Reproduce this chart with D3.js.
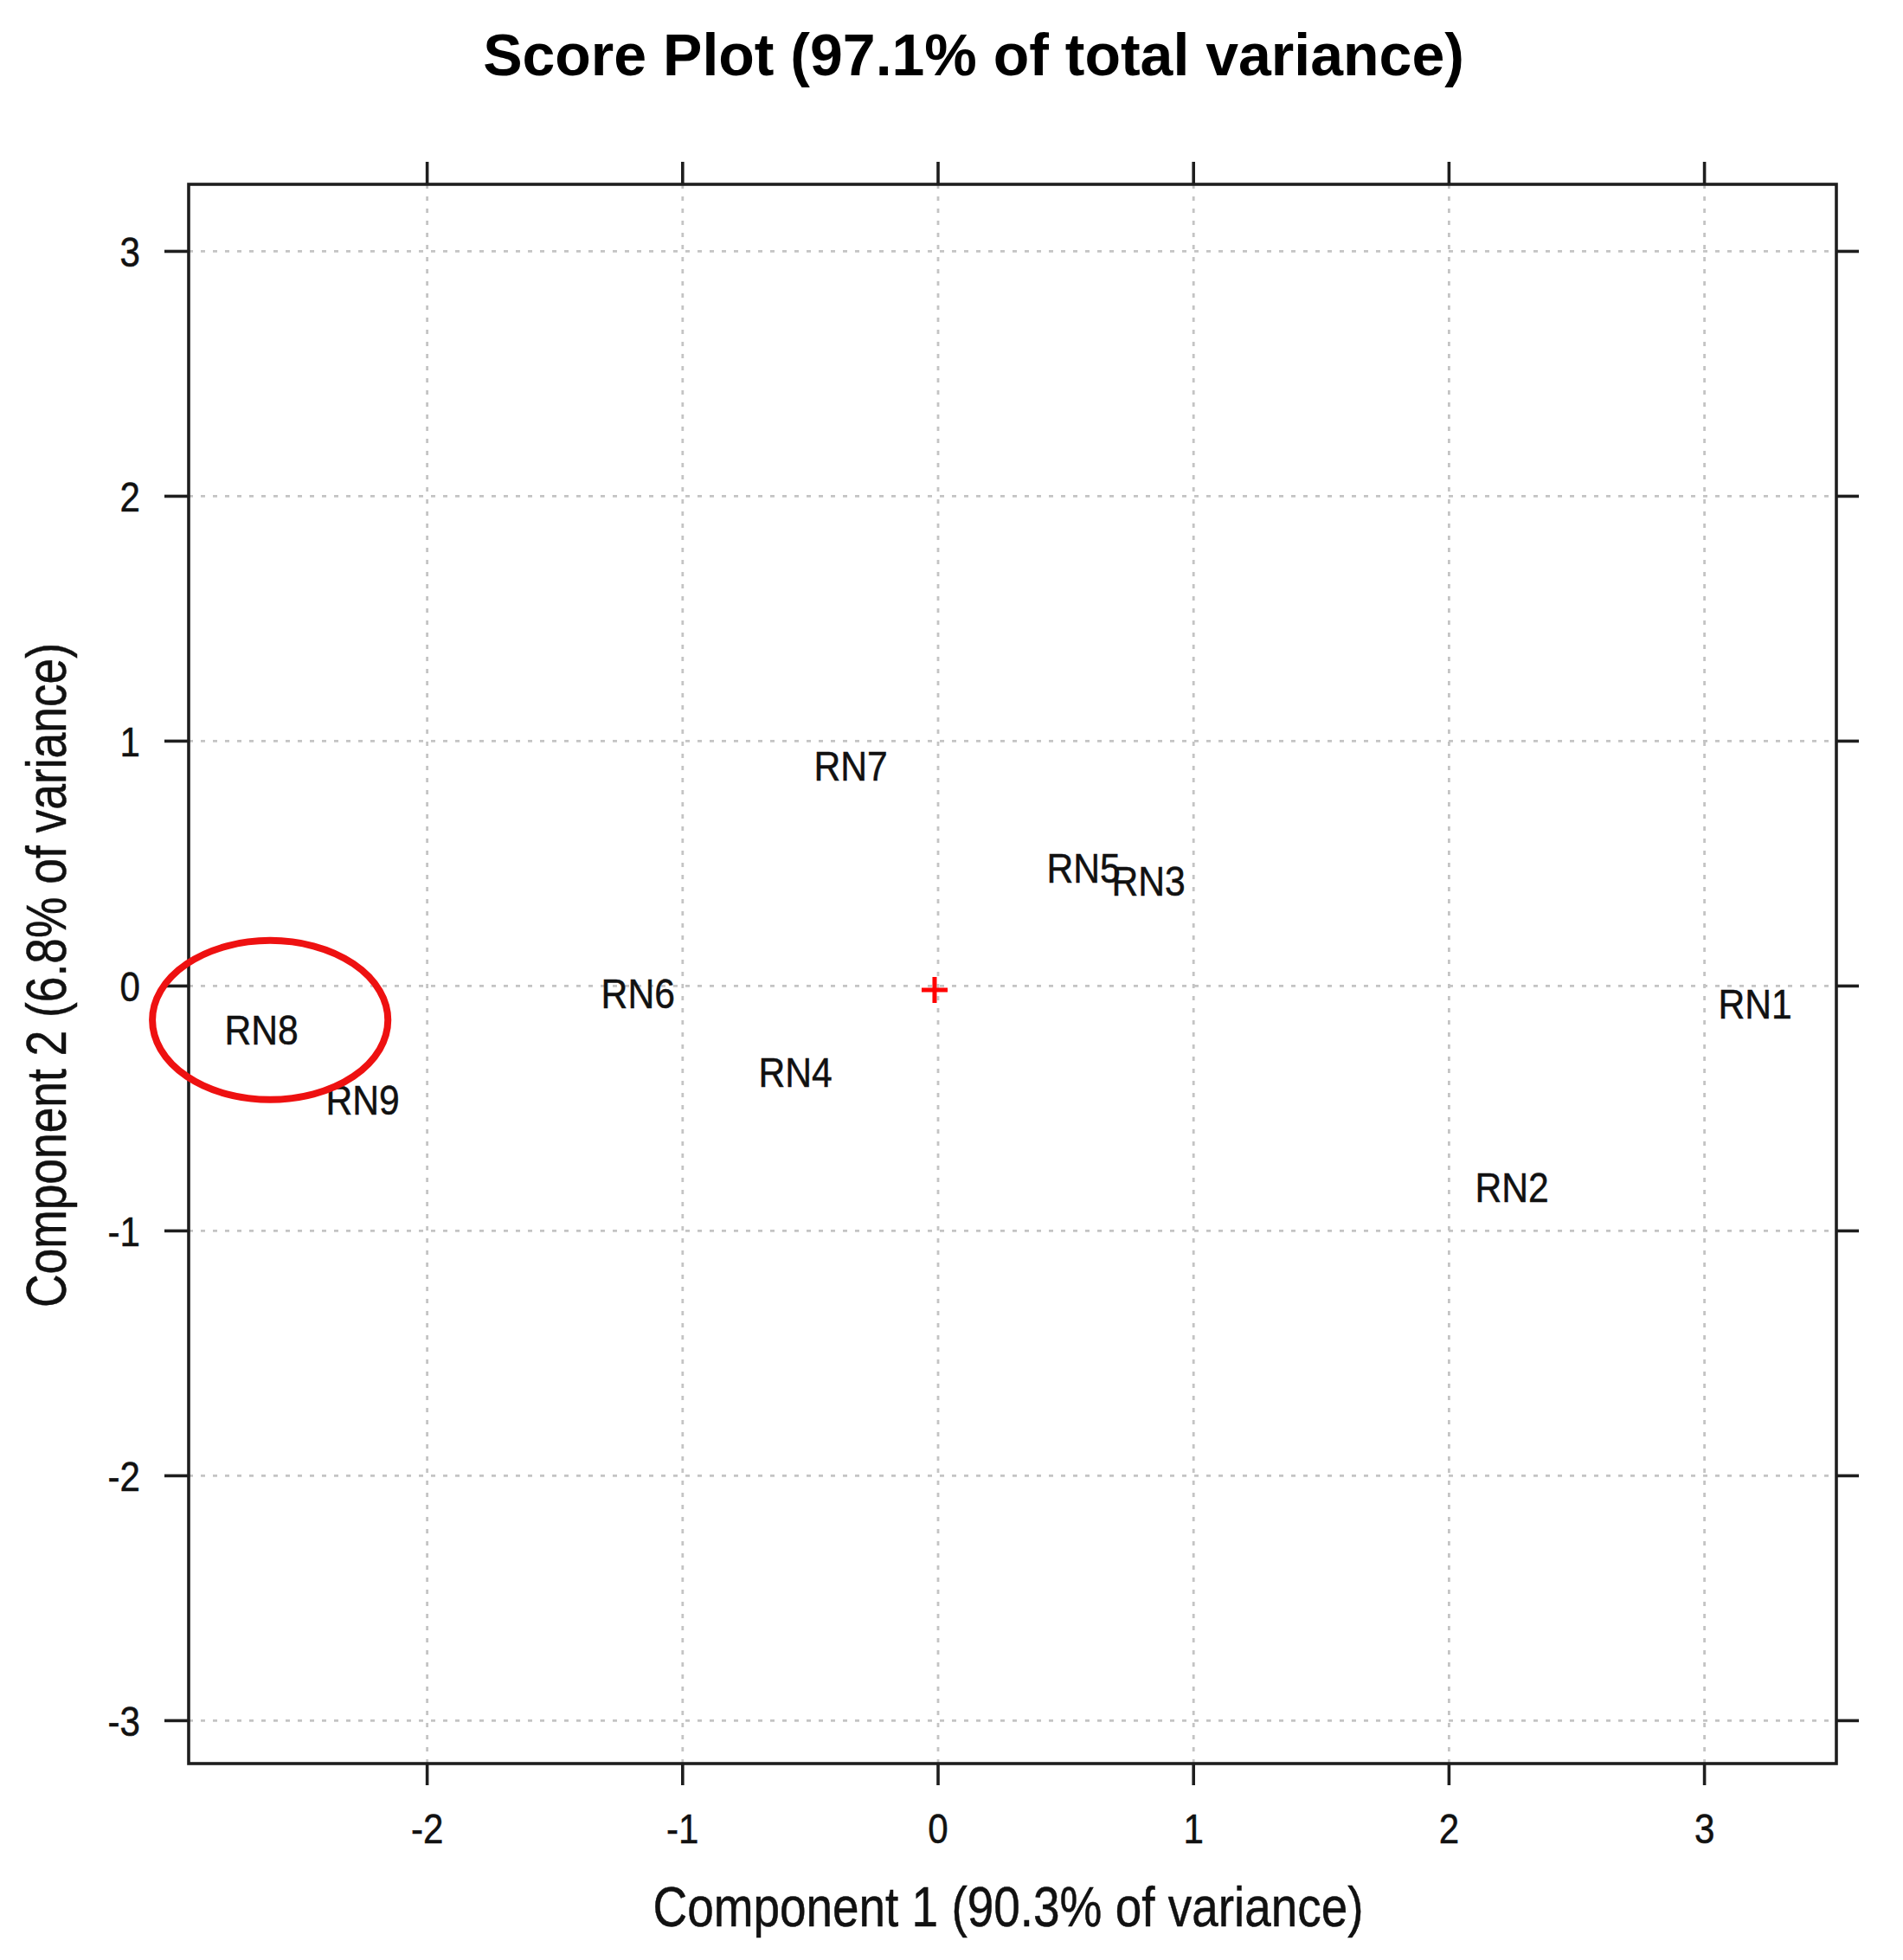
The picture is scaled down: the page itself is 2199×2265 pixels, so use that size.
<!DOCTYPE html>
<html>
<head>
<meta charset="utf-8">
<script src="https://cdn.jsdelivr.net/npm/d3@7"></script>
<style>
  html, body { margin: 0; padding: 0; background: #fff; }
  svg { display: block; }
  text { font-family: "Liberation Sans", Arial, sans-serif; fill: #111; }
</style>
</head>
<body>
<svg id="chart" width="2199" height="2265"></svg>
<script>
// ---- data ----
const sampleNames = ["RN1", "RN2", "RN3", "RN4", "RN5", "RN6", "RN7", "RN8", "RN9"];
const comp1Scores = [3.200, 2.248, 0.825, -0.557, 0.571, -1.173, -0.340, -2.647, -2.251];
const comp2Scores = [-0.071, -0.823, 0.431, -0.350, 0.484, -0.028, 0.898, -0.177, -0.466];
const xTicks = [-2, -1, 0, 1, 2, 3];
const yTicks = [-3, -2, -1, 0, 1, 2, 3];
const centerMark = [-0.012, -0.018];
// highlight ellipse (data units): cx, cy, rx, ry
const highlightEllipse = [-2.613, -0.141, 0.461, 0.325];
const titleText = "Score Plot (97.1% of total variance)";
const xLabel = "Component 1 (90.3% of variance)";
const yLabel = "Component 2 (6.8% of variance)";

(function () {
// ---- layout ----
const pL = 218, pR = 2122, pT = 213, pB = 2038;
const svg = d3.select("#chart");
svg.append("rect").attr("width", 2199).attr("height", 2265).attr("fill", "#fff");

const x = d3.scaleLinear().domain([-2.932, 3.518]).range([pL, pR]);
const y = d3.scaleLinear().domain([-3.177, 3.272]).range([pB, pT]);

const squeeze = 0.86;
const tickFont = 49;

// grid lines
const gridX = svg.append("g").attr("transform", `translate(0,${pB})`)
  .call(d3.axisBottom(x).tickValues(xTicks).tickSize(-(pB - pT)).tickFormat(""));
const gridY = svg.append("g").attr("transform", `translate(${pL},0)`)
  .call(d3.axisLeft(y).tickValues(yTicks).tickSize(-(pR - pL)).tickFormat(""));
[gridX, gridY].forEach(g => {
  g.select(".domain").remove();
  g.selectAll("line").attr("stroke", "#c4c4c4").attr("stroke-width", 2.8).attr("stroke-dasharray", "5,9");
});

// frame
svg.append("rect")
  .attr("x", pL).attr("y", pT).attr("width", pR - pL).attr("height", pB - pT)
  .attr("fill", "none").attr("stroke", "#1e1e1e").attr("stroke-width", 3.6);

// axes with outer ticks
const axB = svg.append("g").attr("transform", `translate(0,${pB})`)
  .call(d3.axisBottom(x).tickValues(xTicks).tickSize(25).tickFormat(d3.format("d")));
const axT = svg.append("g").attr("transform", `translate(0,${pT})`)
  .call(d3.axisTop(x).tickValues(xTicks).tickSize(26).tickFormat(""));
const axL = svg.append("g").attr("transform", `translate(${pL},0)`)
  .call(d3.axisLeft(y).tickValues(yTicks).tickSize(28).tickFormat(d3.format("d")));
const axR = svg.append("g").attr("transform", `translate(${pR},0)`)
  .call(d3.axisRight(y).tickValues(yTicks).tickSize(26).tickFormat(""));
[axB, axT, axL, axR].forEach(g => {
  g.select(".domain").remove();
  g.selectAll("line").attr("stroke", "#1e1e1e").attr("stroke-width", 3.6);
  g.attr("font-family", null).attr("font-size", null);
});
axB.selectAll("text")
  .text(d => d < 0 ? "-" + Math.abs(d) : String(d))
  .attr("y", 92).attr("dy", 0)
  .attr("font-size", tickFont).attr("text-anchor", "middle")
  .attr("transform", `scale(${squeeze},1)`)
  .style("fill", "#111").style("stroke", "#111").style("stroke-width", 0.5);
axL.selectAll("text")
  .text(d => d < 0 ? "-" + Math.abs(d) : String(d))
  .attr("x", -56 / squeeze).attr("dy", "0.36em")
  .attr("font-size", tickFont).attr("text-anchor", "end")
  .attr("transform", `scale(${squeeze},1)`)
  .style("fill", "#111").style("stroke", "#111").style("stroke-width", 0.5);

// point labels
const pts = sampleNames.map((n, i) => ({ name: n, c1: comp1Scores[i], c2: comp2Scores[i] }));
svg.append("g").selectAll("text").data(pts).join("text")
  .attr("transform", d => `translate(${x(d.c1)},${y(d.c2)}) scale(0.87,1)`)
  .attr("text-anchor", "middle").attr("dy", "0.36em")
  .attr("font-size", 49)
  .style("stroke", "#111").style("stroke-width", 0.5)
  .text(d => d.name);

// centre cross
const cx0 = x(centerMark[0]), cy0 = y(centerMark[1]), arm = 15;
svg.append("path")
  .attr("d", `M${cx0 - arm},${cy0}H${cx0 + arm}M${cx0},${cy0 - arm}V${cy0 + arm}`)
  .attr("stroke", "#ff0000").attr("stroke-width", 5).attr("fill", "none");

// highlight ellipse
svg.append("ellipse")
  .attr("cx", x(highlightEllipse[0])).attr("cy", y(highlightEllipse[1]))
  .attr("rx", x(highlightEllipse[2]) - x(0)).attr("ry", y(0) - y(highlightEllipse[3]))
  .attr("fill", "none").attr("stroke", "#ee1111").attr("stroke-width", 8);

// title
svg.append("text")
  .attr("x", 1125).attr("y", 87).attr("text-anchor", "middle")
  .attr("font-size", 68).attr("font-weight", "bold").style("fill", "#000")
  .text(titleText);

// axis titles
svg.append("text")
  .attr("x", 1165).attr("y", 2226).attr("text-anchor", "middle")
  .attr("font-size", 64).attr("textLength", 821).attr("lengthAdjust", "spacingAndGlyphs")
  .style("stroke", "#111").style("stroke-width", 0.5)
  .text(xLabel);
svg.append("text")
  .attr("transform", `translate(76,1127) rotate(-90)`)
  .attr("text-anchor", "middle")
  .attr("font-size", 64).attr("textLength", 768).attr("lengthAdjust", "spacingAndGlyphs")
  .style("stroke", "#111").style("stroke-width", 0.5)
  .text(yLabel);
})();
</script>
</body>
</html>
